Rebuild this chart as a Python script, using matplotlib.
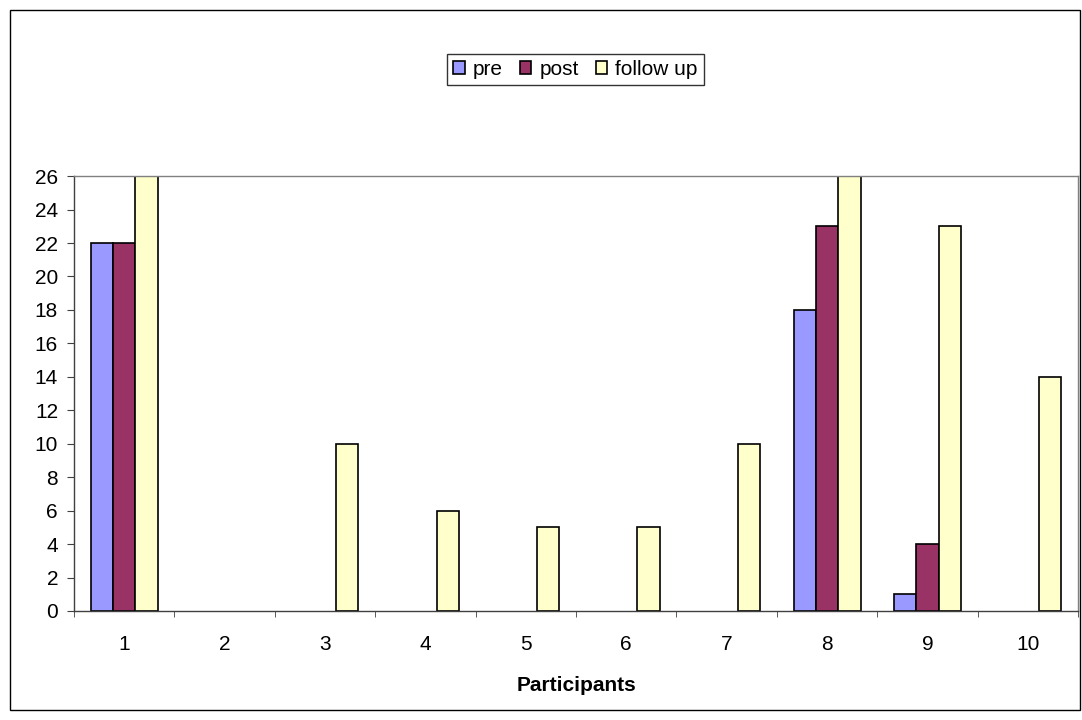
import matplotlib.pyplot as plt
import numpy as np
from matplotlib.patches import Rectangle

plt.rcParams['font.family'] = ['Liberation Sans', 'DejaVu Sans']

participants = ['1', '2', '3', '4', '5', '6', '7', '8', '9', '10']
pre = [22, 0, 0, 0, 0, 0, 0, 18, 1, 0]
post = [22, 0, 0, 0, 0, 0, 0, 23, 4, 0]
follow_up = [26, 0, 10, 6, 5, 5, 10, 26, 23, 14]

fs = 15

fig = plt.figure(figsize=(10.82, 7.2), dpi=100)
ax = fig.add_axes([0.0684, 0.1514, 0.928, 0.604])

x = np.arange(1, len(participants) + 1)
w = 0.222


def edges(vals):
    # zero-height bars sit on the axis line, no outline for them
    return [1.2 if v else 0 for v in vals]


ax.bar(x - w, pre, w, color='#9999FF', edgecolor='black', linewidth=edges(pre), label='pre')
ax.bar(x, post, w, color='#993366', edgecolor='black', linewidth=edges(post), label='post')
ax.bar(x + w, follow_up, w, color='#FFFFCC', edgecolor='black', linewidth=edges(follow_up), label='follow up')

ax.set_xlim(0.5, len(participants) + 0.5)
ax.set_ylim(0, 26)
ax.set_yticks(range(0, 27, 2))
ax.set_xticks(x)
ax.set_xticklabels(participants)
ax.set_xticks(np.arange(0.5, len(participants) + 1, 1), minor=True)
ax.tick_params(axis='x', which='major', length=0, pad=17, labelsize=fs)
ax.tick_params(axis='x', which='minor', length=4.5, direction='out', color='#404040')
ax.tick_params(axis='y', length=5, direction='out', labelsize=fs, color='#404040', pad=6.5)

for s in ['top', 'right']:
    ax.spines[s].set_color('#808080')
    ax.spines[s].set_linewidth(1)
for s in ['left', 'bottom']:
    ax.spines[s].set_color('#404040')
    ax.spines[s].set_linewidth(1)

ax.set_xlabel('Participants', fontsize=fs, fontweight='bold', labelpad=16)

leg = fig.legend(loc='center', bbox_to_anchor=(0.532, 0.9035), ncol=3, fontsize=fs,
                 frameon=True, fancybox=False, handlelength=0.55, handleheight=0.55,
                 handletextpad=0.4, columnspacing=0.8, borderpad=0.3, borderaxespad=0)
leg.get_frame().set_edgecolor('black')
leg.get_frame().set_linewidth(1)

fig.patches.append(Rectangle((10 / 1082, 10 / 720), 1070 / 1082, 700 / 720,
                             transform=fig.transFigure, fill=False,
                             edgecolor='black', linewidth=1))

fig.savefig('out.png', dpi=100)
